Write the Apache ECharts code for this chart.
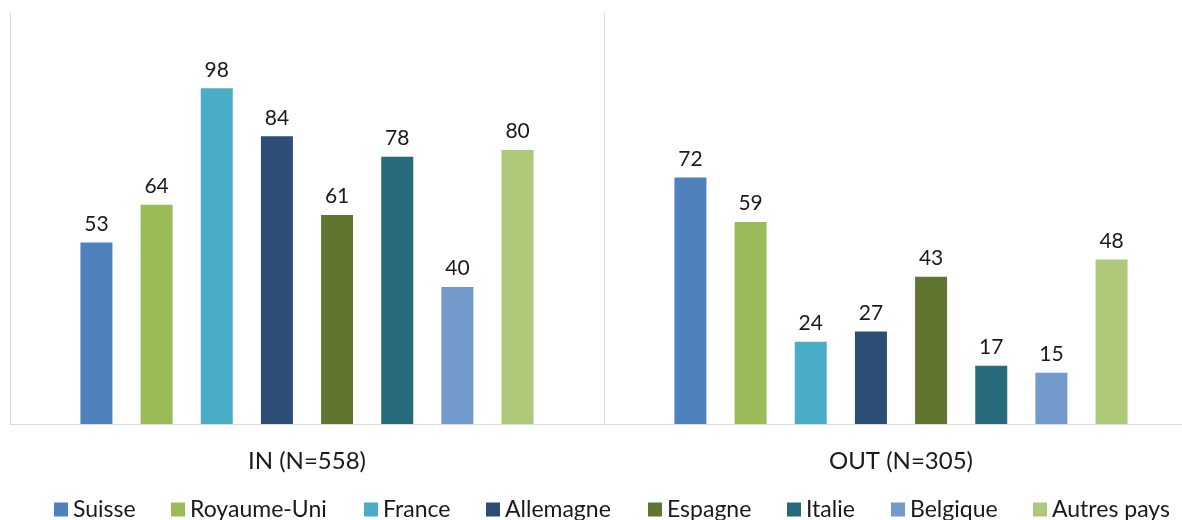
<!DOCTYPE html>
<html>
<head>
<meta charset="utf-8">
<script src="https://cdn.jsdelivr.net/npm/echarts@6/dist/echarts.min.js"></script>
<style>html,body{margin:0;padding:0;background:#fff}#c{width:1182px;height:520px}</style>
</head>
<body>
<div id="c"></div>
<script>
const categories = ['IN (N=558)', 'OUT (N=305)'];
const seriesNames = ['Suisse', 'Royaume-Uni', 'France', 'Allemagne', 'Espagne', 'Italie', 'Belgique', 'Autres pays'];
const suisse = [53, 72];
const royaumeUni = [64, 59];
const france = [98, 24];
const allemagne = [84, 27];
const espagne = [61, 43];
const italie = [78, 17];
const belgique = [40, 15];
const autresPays = [80, 48];
const values = [suisse, royaumeUni, france, allemagne, espagne, italie, belgique, autresPays];
const colors = ['#4F81BD', '#9BBB59', '#4BACC6', '#2C4D75', '#5F7530', '#276A7C', '#729ACA', '#AFC97A'];
const legendLefts = [54, 171, 364, 486, 648, 787, 891, 1033];
const FONT = 'Lato';

const chart = echarts.init(document.getElementById('c'));
const series = seriesNames.map((n, i) => ({
  name: n,
  type: 'bar',
  data: values[i],
  barWidth: 32,
  barGap: '88%',
  itemStyle: { color: colors[i] },
  label: { show: true, position: 'top', distance: 8, color: '#1a1a1a', fontSize: 21, fontFamily: FONT },
  emphasis: { disabled: true }
}));
const legends = seriesNames.map((n, i) => ({
  data: [n],
  left: legendLefts[i],
  top: 498,
  padding: 0,
  itemWidth: 14,
  itemHeight: 14,
  icon: 'rect',
  textStyle: { fontSize: 23, fontFamily: FONT, color: '#1a1a1a' },
  selectedMode: false
}));
chart.setOption({
  animation: false,
  color: colors,
  legend: legends,
  grid: { left: 10, top: 13, width: 1188, height: 411, outerBoundsMode: 'none', containLabel: false },
  xAxis: {
    type: 'category',
    data: categories,
    axisLine: { show: true, lineStyle: { color: '#d9d9d9', width: 1 } },
    axisTick: { show: false },
    splitLine: { show: true, lineStyle: { color: '#d9d9d9', width: 1 } },
    axisLabel: { margin: 25, fontSize: 24, fontFamily: FONT, color: '#1a1a1a' }
  },
  yAxis: { type: 'value', min: 0, max: 120, show: false, splitLine: { show: false } },
  series: series
});
</script>
</body>
</html>
